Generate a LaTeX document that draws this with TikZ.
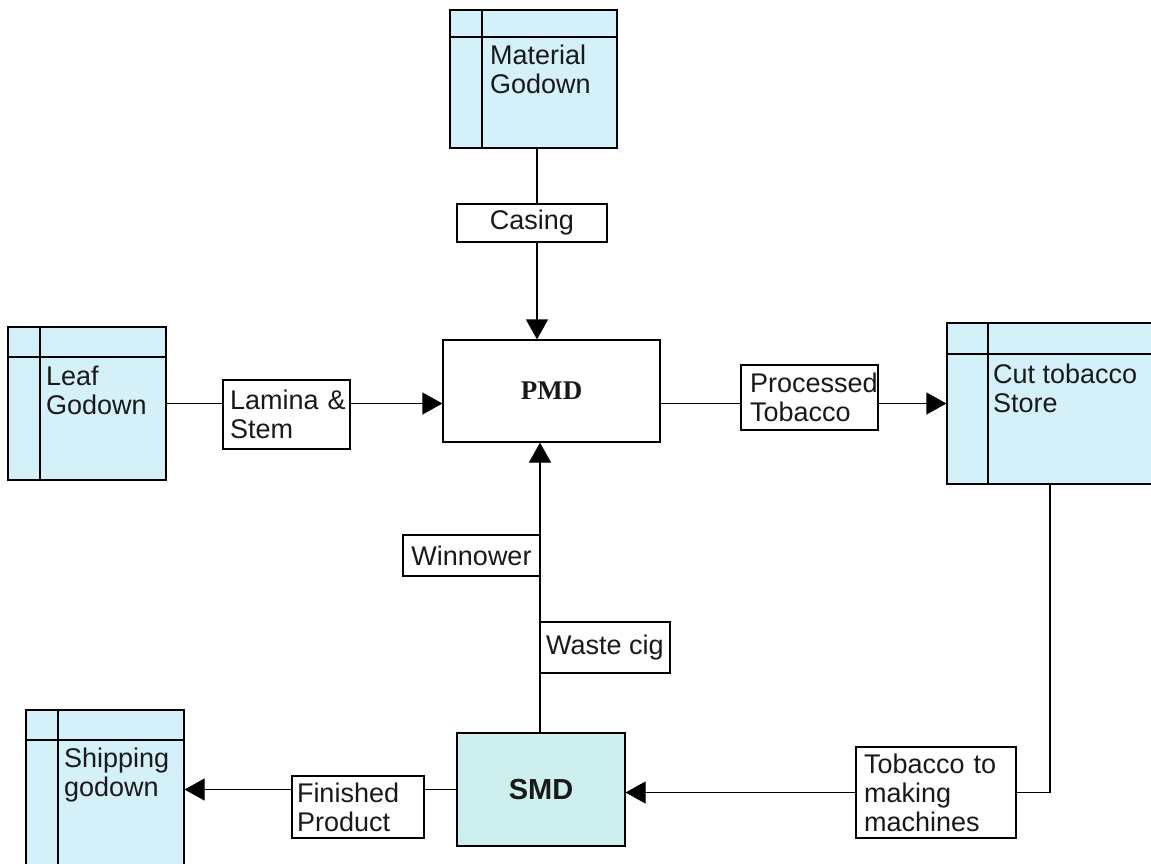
\documentclass[tikz,border=0pt]{standalone}
\usepackage{fontspec}
\setmainfont{Liberation Sans}
\newfontfamily\serifb{Liberation Serif}
\usetikzlibrary{arrows.meta,calc}
\hfuzz=200pt
\hbadness=10000
\definecolor{storefill}{RGB}{212,240,248}
\definecolor{smdfill}{RGB}{205,240,238}
\definecolor{ink}{RGB}{25,25,25}
\tikzset{
  store/.style={draw=black, line width=1.2pt, fill=storefill, inner sep=0pt},
  lbl/.style={draw=black, line width=1.1pt, fill=white, inner sep=0pt, text=ink, font=\fontsize{27}{29}\selectfont, align=left},
  proc/.style={draw=black, line width=1.2pt, inner sep=0pt, text=ink},
  stxt/.style={anchor=north west, inner sep=0pt, text=ink, font=\fontsize{27}{28.5}\selectfont, align=left},
  conn/.style={line width=1.2pt, draw=black},
  arr/.style={conn, -{Triangle[length=20pt,width=22pt]}}
}
\begin{document}
\begin{tikzpicture}[x=1pt,y=-1pt]
\useasboundingbox (0,0) rectangle (1151,863);
\clip (0,0) rectangle (1151,863);
\fill[white] (0,0) rectangle (1151,863);
% stores
\node[store, minimum width=167pt, minimum height=138pt] (mat) at (533.5,79) {};
\node[store, minimum width=158pt, minimum height=153pt] (leaf) at (87,403.5) {};
\node[store, minimum width=213pt, minimum height=161pt] (cut) at (1053.5,403.5) {};
\node[store, minimum width=158pt, minimum height=170pt] (ship) at (105,795) {};
% store inner lines
\draw[conn] (450,37) -- (617,37) (482,10) -- (482,148);
\draw[conn] (8,357) -- (166,357) (40,327) -- (40,480);
\draw[conn] (947,354) -- (1160,354) (988,323) -- (988,484);
\draw[conn] (26,740) -- (184,740) (58,710) -- (58,880);
\node[stxt] (matt) at (490,45) {Material\\Godown};
\node[stxt] (leaft) at (46,366) {Leaf\\Godown};
\node[stxt] (cutt) at (993,364) {Cut~tobacco\\Store};
\node[stxt] (shipt) at (64,748) {Shipping\\godown};
% process boxes
\node[proc, fill=white, minimum width=217pt, minimum height=102pt, font=\serifb\bfseries\fontsize{27}{29}\selectfont] (pmd) at (551.5,391) {PMD};
\node[proc, fill=smdfill, minimum width=168pt, minimum height=113pt, font=\bfseries\fontsize{29}{31}\selectfont] (smd) at (541,789.5) {SMD};
% connectors
\draw[conn] (mat.south -| 537,0) -- (537,204);
\draw[arr] (537,242) -- (pmd.north -| 537,0);
\draw[conn] (leaf.east) -- (223,403.5);
\draw[arr] (350,403.5) -- (pmd.west |- leaf.east);
\draw[conn] (pmd.east |- cut.west) -- (741,403.5);
\draw[arr] (878,403.5) -- (cut.west);
\draw[conn] (cut.south -| 1050,0) |- (1016,792.5);
\draw[arr] (856,792.5) -- (smd.east |- 0,792.5);
\draw[conn] (smd.west) -- (424,789.5);
\draw[arr] (292,789.5) -- (ship.east |- smd.west);
\draw[arr] (smd.north -| 540,0) -- (pmd.south -| 540,0);
% labels
\node[lbl, minimum width=150pt, minimum height=38pt] (cas) at (532,223) {Casing};
\node[lbl, minimum height=69pt, text width=113pt, inner xsep=7pt] (lam) at (286.5,414.5) {Lamina~\&\\Stem};
\node[lbl, minimum height=65pt, text width=119pt, inner xsep=9pt] (prc) at (809.5,397.5) {Processed\\Tobacco};
\node[lbl, minimum width=137pt, minimum height=41pt] (win) at (471.5,555.5) {Winnower};
\node[lbl, minimum width=130pt, minimum height=51pt] (was) at (605,647.5) {Waste~cig};
\node[lbl, minimum height=62pt, text width=122pt, inner xsep=5pt] (fin) at (358,807) {Finished\\Product};
\node[lbl, minimum height=91pt, text width=144pt, inner xsep=8pt] (tob) at (936,792.5) {Tobacco~to\\making\\machines};
\end{tikzpicture}
\end{document}
